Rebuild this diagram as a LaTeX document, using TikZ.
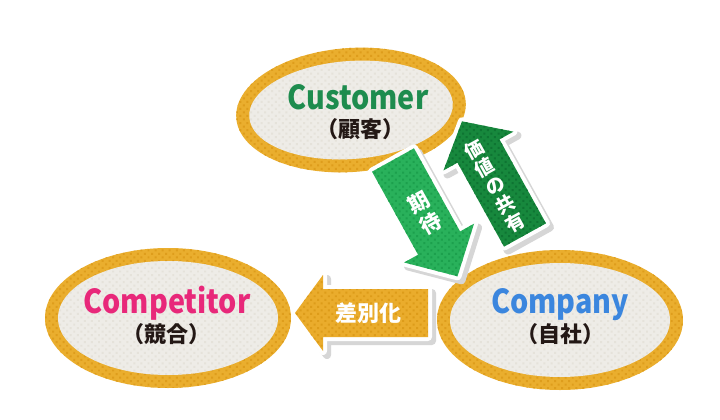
\documentclass[tikz,border=0pt]{standalone}
\usepackage{fontspec}
\usetikzlibrary{shapes.geometric,patterns.meta}
\newfontfamily\jp{Noto Sans CJK JP}
\definecolor{ringc}{HTML}{EAAE2E}
\definecolor{ringdot}{HTML}{DE9D1C}
\definecolor{facec}{HTML}{EEECE7}
\definecolor{facedot}{HTML}{E5E2DA}
\definecolor{lgreen}{HTML}{29B15B}
\definecolor{lgreendot}{HTML}{1CA04D}
\definecolor{dgreen}{HTML}{17883D}
\definecolor{dgreendot}{HTML}{0E7432}
\definecolor{orangec}{HTML}{EAAC2C}
\definecolor{orangedot}{HTML}{DD9C1A}
\definecolor{shadowc}{HTML}{D6D6D6}
\definecolor{custc}{HTML}{1E8C4E}
\definecolor{compc}{HTML}{E8287A}
\definecolor{compyc}{HTML}{3B86DE}
\definecolor{subc}{HTML}{231815}
\tikzdeclarepattern{
  name=halftone,
  type=uncolored,
  bottom left={(-2.5pt,-2.5pt)},
  top right={(2.5pt,2.5pt)},
  tile size={(5pt,5pt)},
  tile transformation={rotate=45},
  code={\fill (0pt,0pt) circle [radius=1.4pt];}
}
\newcommand\ttl[1]{\scalebox{0.87}[1]{#1}}
\newcommand\blkshape[4]{(0,-#3) -- ({#1-#2},-#3) -- ({#1-#2},-#4) -- (#1,0) -- ({#1-#2},#4) -- ({#1-#2},#3) -- (0,#3) -- cycle}
\newcommand\blkarrow[8]{%
  \begin{scope}[shift={#1}]
    \begin{scope}[shift={(4,4)}, rotate=#2]
      \filldraw[shadowc, line width=8pt, line join=round] \blkshape{#3}{#4}{#5}{#6};
    \end{scope}
    \begin{scope}[rotate=#2]
      \filldraw[white, line width=8pt, line join=round] \blkshape{#3}{#4}{#5}{#6};
      \fill[#7] \blkshape{#3}{#4}{#5}{#6};
      \fill[pattern=halftone, pattern color=#8] \blkshape{#3}{#4}{#5}{#6};
    \end{scope}
  \end{scope}}
\begin{document}
\begin{tikzpicture}[x=1pt,y=-1pt,
  ring/.style={ellipse, fill=ringc, postaction={pattern=halftone, pattern color=ringdot}, inner sep=0pt},
  face/.style={ellipse, fill=facec, postaction={pattern=halftone, pattern color=facedot}, inner sep=0pt},
  title/.style={font=\jp\bfseries\fontsize{33pt}{33pt}\selectfont, anchor=base, inner sep=0pt},
  sub/.style={font=\jp\bfseries\fontsize{22pt}{22pt}\selectfont, text=subc, anchor=base, inner sep=0pt},
  arrtxt/.style={text=white, align=center, inner sep=0pt},
  ]
\useasboundingbox[fill=white] (0,0) rectangle (720,420);
% ellipses
\node[ring, minimum width=230pt, minimum height=124pt, rotate=4] (custring) at (351,110) {};
\node[face, minimum width=204pt, minimum height=98pt, rotate=4] (cust) at (351,110) {};
\node[ring, minimum width=246pt, minimum height=140pt] (cptring) at (168,318) {};
\node[face, minimum width=220pt, minimum height=114pt] (cpt) at (168,318) {};
\node[ring, minimum width=246pt, minimum height=140pt] (cmpring) at (560,320) {};
\node[face, minimum width=220pt, minimum height=114pt] (cmp) at (560,320) {};
% labels
\node[title, text=custc] (custname) at (358,110) {\ttl{Customer}};
\node[sub] (custsub) at (360,137.5) {（顧客）};
\node[title, text=compc] (cptname) at (167,313) {\ttl{Competitor}};
\node[sub] (cptsub) at (166,342) {（競合）};
\node[title, text=compyc] (cmpname) at (560,313) {\ttl{Company}};
\node[sub] (cmpsub) at (560,342) {（自社）};
% arrows
\coordinate (expbase) at (393,160);
\coordinate (valbase) at (525,235);
\coordinate (difbase) at (428,313);
\blkarrow{(expbase)}{-61}{133}{38}{24}{40}{lgreen}{lgreendot}
\blkarrow{(valbase)}{119}{130}{34}{24}{40}{dgreen}{dgreendot}
\blkarrow{(difbase)}{180}{133}{28}{24}{38}{orangec}{orangedot}
\node[arrtxt, rotate=29, font=\jp\bfseries\fontsize{21pt}{24pt}\selectfont] (exptxt) at (425,213) {期\\待};
\node[arrtxt, rotate=29, font=\jp\bfseries\fontsize{19pt}{21pt}\selectfont] (valtxt) at (495,186) {価\\値\\の\\共\\有};
\node[arrtxt, font=\jp\bfseries\fontsize{22pt}{22pt}\selectfont] (diftxt) at (368,313) {差別化};
\end{tikzpicture}
\end{document}
